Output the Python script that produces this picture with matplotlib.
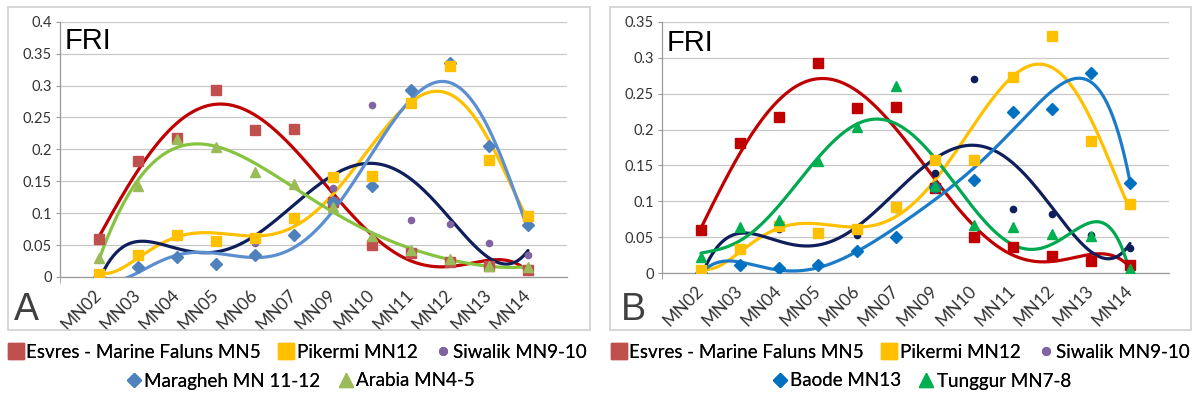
import numpy as np
import matplotlib
matplotlib.use("Agg")
import matplotlib.pyplot as plt
from matplotlib.lines import Line2D
from matplotlib.patches import Rectangle

# ---------------- data ----------------
categories = ['MN02', 'MN03', 'MN04', 'MN05', 'MN06', 'MN07',
              'MN09', 'MN10', 'MN11', 'MN12', 'MN13', 'MN14']

esvres = [0.060, 0.181, 0.217, 0.293, 0.230, 0.232, 0.118, 0.050, 0.037, 0.024, 0.017, 0.011]
pikermi = [0.005, 0.034, 0.066, 0.056, 0.061, 0.092, 0.157, 0.158, 0.273, 0.330, 0.184, 0.096]
siwalik = [0.000, 0.035, 0.062, 0.055, 0.053, 0.090, 0.140, 0.270, 0.090, 0.083, 0.053, 0.035]
maragheh = [0.000, 0.016, 0.032, 0.021, 0.034, 0.066, 0.117, 0.143, 0.293, 0.336, 0.205, 0.081]
arabia = [0.029, 0.143, 0.216, 0.204, 0.165, 0.145, 0.110, 0.065, 0.042, 0.028, 0.018, 0.016]
baode = [0.001, 0.012, 0.007, 0.011, 0.031, 0.050, 0.120, 0.130, 0.224, 0.228, 0.279, 0.125]
tunggur = [0.023, 0.065, 0.074, 0.156, 0.203, 0.261, 0.121, 0.067, 0.064, 0.054, 0.052, 0.006]

yticks_a = [0, 0.05, 0.1, 0.15, 0.2, 0.25, 0.3, 0.35, 0.4]
yticks_b = [0, 0.05, 0.1, 0.15, 0.2, 0.25, 0.3, 0.35]

W, H = 1197, 403
fig = plt.figure(figsize=(W / 100, H / 100), dpi=100)

TXT = '#333333'
GRID = '#C8C8C8'
AX = '#9A9A9A'


def px_rect(x0, y0, x1, y1):
    return [x0 / W, 1 - y1 / H, (x1 - x0) / W, (y1 - y0) / H]


def fmt(v):
    return '%g' % v


def draw_panel(rect, ymax, yticks, series, letter, fri_xy, letter_xy):
    ax = fig.add_axes(px_rect(*rect))
    x = np.arange(1, len(categories) + 1)
    xf = np.linspace(1, len(categories), 300)
    for vals, mcol, lcol, mk, ms, zo in series:
        vals = np.asarray(vals)
        coef = np.polyfit(x, vals, 6)
        ax.plot(xf, np.polyval(coef, xf), color=lcol, lw=2.3, zorder=3,
                solid_capstyle='round')
    for vals, mcol, lcol, mk, ms, zo in series:
        ax.plot(x, vals, linestyle='none', marker=mk, color=mcol, ms=ms,
                mec=mcol, zorder=zo)
    ax.set_xlim(0, 13)
    ax.set_ylim(0, ymax)
    ax.set_yticks(yticks)
    ax.set_yticklabels([fmt(v) for v in yticks], fontsize=10.5, color=TXT,
                       family='Lato')
    ax.set_xticks(x)
    ax.set_xticklabels(categories, rotation=45, ha='right',
                       va='center', rotation_mode='anchor', fontsize=12.5,
                       color=TXT, family='Lato')
    ax.tick_params(axis='x', which='major', length=0, pad=11)
    ax.set_xticks(np.arange(0, 13, 2), minor=True)
    ax.tick_params(axis='x', which='minor', length=4, color=AX, direction='out')
    ax.tick_params(axis='y', length=3, color=AX, pad=3)
    for s in ['top', 'right']:
        ax.spines[s].set_visible(False)
    for s in ['left', 'bottom']:
        ax.spines[s].set_color(AX)
        ax.spines[s].set_linewidth(0.9)
    ax.yaxis.grid(True, color=GRID, lw=0.9)
    ax.set_axisbelow(True)
    ax.patch.set_alpha(0)
    fig.text(fri_xy[0] / W, 1 - fri_xy[1] / H, 'FRI', fontsize=21,
             family='Liberation Sans', color='black', va='baseline')
    fig.text(letter_xy[0] / W, 1 - letter_xy[1] / H, letter, fontsize=27,
             family='Liberation Sans', color='#404040', va='baseline')
    return ax


# panel frames
for r in [(8, 7, 590, 330), (610, 7, 1191, 330)]:
    fig.add_artist(Rectangle((r[0] / W, 1 - r[3] / H), (r[2] - r[0]) / W,
                             (r[3] - r[1]) / H, transform=fig.transFigure,
                             fill=False, ec='#D0D0D0', lw=1.2))

seriesA = [
    (esvres, '#C0504D', '#C00000', 's', 7.5, 4),
    (pikermi, '#FFC000', '#FFC000', 's', 7.5, 4.2),
    (siwalik, '#8064A2', '#0F1F5C', 'o', 4.5, 3.5),
    (maragheh, '#4F81BD', '#5B8FD0', 'D', 6, 4.1),
    (arabia, '#9BBB59', '#86C440', '^', 7.5, 4.3),
]
seriesB = [
    (esvres, '#C00000', '#C00000', 's', 7.5, 4),
    (pikermi, '#FFC000', '#FFC000', 's', 7.5, 4.2),
    (siwalik, '#0F1F5C', '#0F1F5C', 'o', 4.5, 3.5),
    (baode, '#0070C0', '#1A7BC9', 'D', 6, 4.1),
    (tunggur, '#00B050', '#00A84F', '^', 7.5, 4.3),
]

draw_panel((60, 21.7, 567, 277), 0.4, yticks_a, seriesA, 'A', (65, 49), (14, 320))
draw_panel((662, 21.7, 1169, 273.3), 0.35, yticks_b, seriesB, 'B', (667, 51), (621, 320))


def handle(mk, col, ms):
    return Line2D([], [], linestyle='none', marker=mk, color=col, mec=col, ms=ms)


legA1 = [(handle('s', '#C0504D', 11), 'Esvres - Marine Faluns MN5'),
         (handle('s', '#FFC000', 11), 'Pikermi MN12'),
         (handle('o', '#8064A2', 5.5), 'Siwalik MN9-10')]
legA2 = [(handle('D', '#4F81BD', 7.5), 'Maragheh MN 11-12'),
         (handle('^', '#9BBB59', 10), 'Arabia MN4-5')]
legB1 = [(handle('s', '#C0504D', 11), 'Esvres - Marine Faluns MN5'),
         (handle('s', '#FFC000', 11), 'Pikermi MN12'),
         (handle('o', '#8064A2', 5.5), 'Siwalik MN9-10')]
legB2 = [(handle('D', '#0070C0', 7.5), 'Baode MN13'),
         (handle('^', '#00B050', 10), 'Tunggur MN7-8')]

for items, cx, cy in [(legA1, 298, 352), (legA2, 301, 381),
                      (legB1, 901, 352), (legB2, 922, 381)]:
    lg = fig.legend([h for h, _ in items], [t for _, t in items],
                    loc='center', bbox_to_anchor=(cx / W, 1 - cy / H),
                    ncol=len(items), frameon=False, handlelength=0.7,
                    handletextpad=0.2, columnspacing=1.0, borderaxespad=0,
                    borderpad=0, prop={'family': 'Lato', 'size': 13.5})
    for t in lg.get_texts():
        t.set_color('black')
    fig.add_artist(lg)

fig.savefig('out.png', dpi=100, facecolor='white')
